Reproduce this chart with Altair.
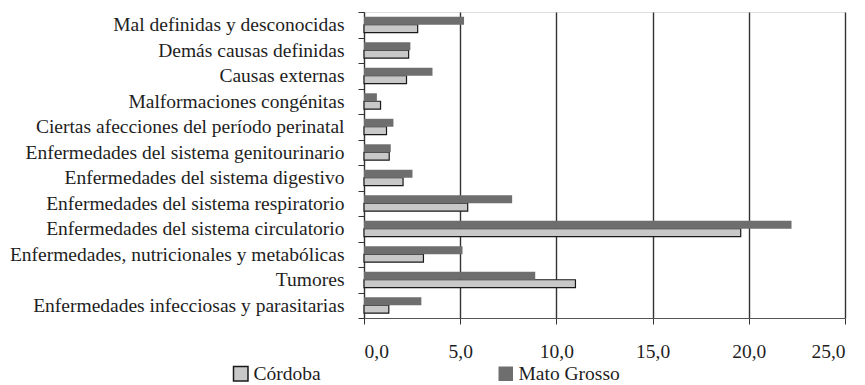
import altair as alt
import pandas as pd

categories = [
    "Mal definidas y desconocidas",
    "Demás causas definidas",
    "Causas externas",
    "Malformaciones congénitas",
    "Ciertas afecciones del período perinatal",
    "Enfermedades del sistema genitourinario",
    "Enfermedades del sistema digestivo",
    "Enfermedades del sistema respiratorio",
    "Enfermedades del sistema circulatorio",
    "Enfermedades, nutricionales y metabólicas",
    "Tumores",
    "Enfermedades infecciosas y parasitarias",
]
cordoba = [2.79, 2.32, 2.21, 0.86, 1.17, 1.31, 2.03, 5.39, 19.58, 3.09, 10.99, 1.29]
mato_grosso = [5.20, 2.41, 3.56, 0.67, 1.53, 1.39, 2.52, 7.70, 22.22, 5.12, 8.9, 2.98]
series = ["Córdoba", "Mato Grosso"]
x_ticks = [0, 5, 10, 15, 20, 25]

rows = []
for c, v1, v2 in zip(categories, cordoba, mato_grosso):
    rows.append({"causa": c, "serie": series[0], "valor": v1})
    rows.append({"causa": c, "serie": series[1], "valor": v2})
df = pd.DataFrame(rows)

FONT = "Liberation Serif, DejaVu Serif, serif"
TXT = "#1e1e1e"
FS = 19.5

chart = alt.Chart(df).mark_bar(strokeWidth=1.2).encode(
    y=alt.Y("causa:N", sort=categories, title=None,
            scale=alt.Scale(paddingInner=0, paddingOuter=0),
            axis=alt.Axis(tickBand="extent", domainColor="#333333", tickColor="#333333",
                          tickSize=6, labelPadding=14, labelFontSize=FS, labelFont=FONT,
                          labelColor=TXT, labelLimit=450)),
    yOffset=alt.YOffset("serie:N", sort=["Mato Grosso", "Córdoba"],
                        scale=alt.Scale(paddingInner=0, paddingOuter=0.6)),
    x=alt.X("valor:Q", title=None,
            scale=alt.Scale(domain=[0, 25], nice=False),
            axis=alt.Axis(values=x_ticks, grid=True, gridColor="#333333",
                          gridWidth=1.4, domainColor="#555555", tickColor="#333333",
                          tickSize=6, labelPadding=18, labelFontSize=FS, labelFont=FONT,
                          labelColor=TXT,
                          labelExpr="replace(format(datum.value, '.1f'), '.', ',')")),
    fill=alt.Fill("serie:N", title=None,
                  scale=alt.Scale(domain=series, range=["#c8c8c8", "#6e6e6e"]),
                  legend=alt.Legend(orient="none", legendX=-133, legendY=352,
                                    direction="horizontal", columnPadding=174,
                                    symbolType="square", symbolSize=210,
                                    labelFontSize=FS, labelFont=FONT, labelColor=TXT,
                                    labelOffset=3, padding=0)),
    stroke=alt.Stroke("serie:N", title=None,
                      scale=alt.Scale(domain=series, range=["#1a1a1a", "transparent"])),
).properties(
    width=481, height=306,
    autosize=alt.AutoSizeParams(type="none"),
    padding={"left": 356, "top": 4, "right": 12, "bottom": 66},
).configure_view(stroke=None).configure(background="white")

chart.save("out.html", embed_options={"renderer": "svg", "actions": False})
